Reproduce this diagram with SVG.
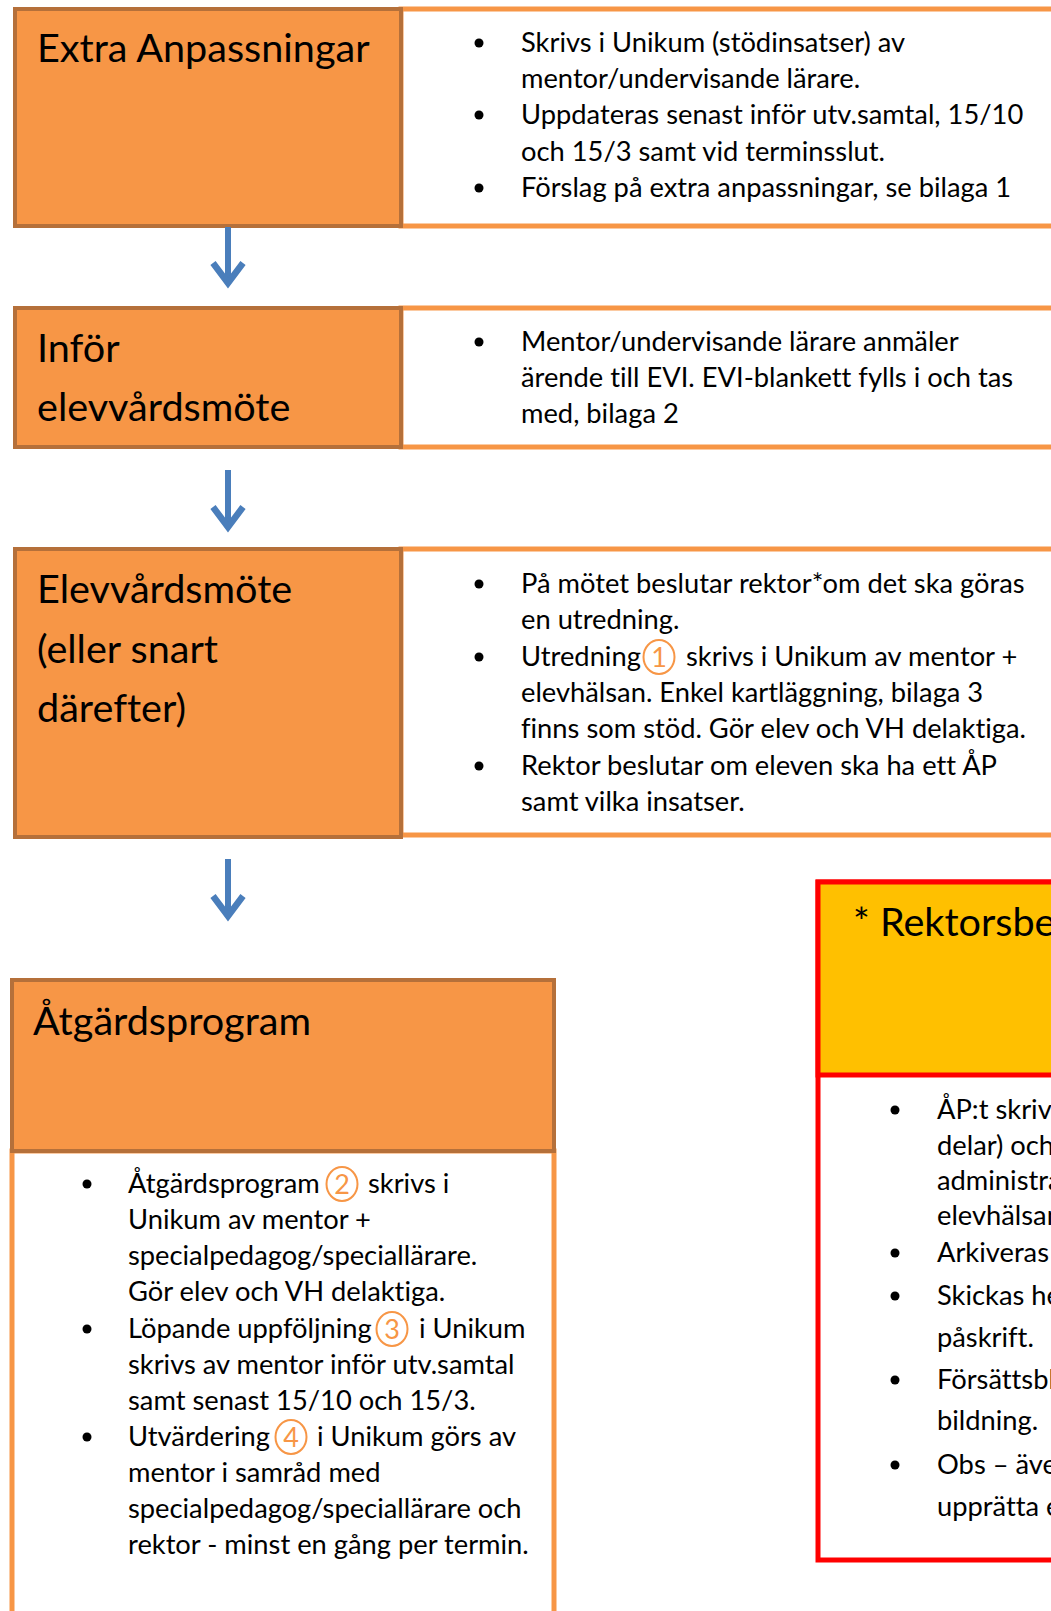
<svg xmlns="http://www.w3.org/2000/svg" width="1051" height="1611" viewBox="0 0 1051 1611">
<defs>
<style>
.ob{fill:#F79646;stroke:#B5703A;stroke-width:4}
.wb{fill:#FFFFFF;stroke:#F79646;stroke-width:5}
.t{font-family:Lato,"Open Sans","Liberation Sans",sans-serif;fill:#000;font-variant-ligatures:none}
.ti{font-size:39.6px}
.bd{font-size:27.3px}
.num{fill:#F79646;font-size:27px;text-anchor:middle}
.circ{fill:none;stroke:#F79646;stroke-width:2}
.conn{stroke:#4A7EBB;stroke-width:6;fill:none}
</style>
<marker id="ah" markerUnits="userSpaceOnUse" markerWidth="50" markerHeight="50" viewBox="-25 -25 50 50" refX="0" refY="0" orient="auto" overflow="visible">
<polyline points="-20,-15 0,0 -20,15" fill="none" stroke="#4A7EBB" stroke-width="6.5" stroke-linejoin="miter"/>
</marker>
<symbol id="bullet" overflow="visible"><circle cx="0" cy="0" r="4.5" fill="#000"/></symbol>
</defs>
<rect width="1051" height="1611" fill="#FFFFFF"/>

<g id="node-extra-anpassningar">
<rect class="wb" x="401" y="9" width="700" height="217"/>
<rect class="ob" x="15" y="9" width="386" height="217"/>
<text class="t ti" x="37" y="62">Extra Anpassningar</text>
<use href="#bullet" x="479" y="43"/>
<text class="t bd" x="521" y="52">Skrivs i Unikum (stödinsatser) av</text>
<text class="t bd" x="521" y="88">mentor/undervisande lärare.</text>
<use href="#bullet" x="479" y="115"/>
<text class="t bd" x="521" y="124">Uppdateras senast inför utv.samtal, 15/10</text>
<text class="t bd" x="521" y="161">och 15/3 samt vid terminsslut.</text>
<use href="#bullet" x="479" y="188"/>
<text class="t bd" x="521" y="197">Förslag på extra anpassningar, se bilaga 1</text>
</g>

<g id="node-infor-elevvardsmote">
<rect class="wb" x="401" y="308" width="700" height="139"/>
<rect class="ob" x="15" y="308" width="386" height="139"/>
<text class="t ti" x="37" y="362">Inför</text>
<text class="t ti" x="37" y="421">elevvårdsmöte</text>
<use href="#bullet" x="479" y="342"/>
<text class="t bd" x="521" y="351">Mentor/undervisande lärare anmäler</text>
<text class="t bd" x="521" y="387">ärende till EVI. EVI-blankett fylls i och tas</text>
<text class="t bd" x="521" y="423">med, bilaga 2</text>
</g>

<g id="node-elevvardsmote">
<rect class="wb" x="401" y="549" width="700" height="286"/>
<rect class="ob" x="15" y="549" width="386" height="288"/>
<text class="t ti" x="37" y="603">Elevvårdsmöte</text>
<text class="t ti" x="37" y="663">(eller snart</text>
<text class="t ti" x="37" y="722">därefter)</text>
<use href="#bullet" x="479" y="584"/>
<text class="t bd" x="521" y="593">På mötet beslutar rektor*om det ska göras</text>
<text class="t bd" x="521" y="629">en utredning.</text>
<use href="#bullet" x="479" y="657"/>
<text class="t bd" x="521" y="666">Utredning</text>
<ellipse class="circ" cx="659" cy="657" rx="15.5" ry="17"/>
<text class="t num" x="659" y="667">1</text>
<text class="t bd" x="686" y="666">skrivs i Unikum av mentor +</text>
<text class="t bd" x="521" y="702">elevhälsan. Enkel kartläggning, bilaga 3</text>
<text class="t bd" x="521" y="738">finns som stöd. Gör elev och VH delaktiga.</text>
<use href="#bullet" x="479" y="766"/>
<text class="t bd" x="521" y="775">Rektor beslutar om eleven ska ha ett ÅP</text>
<text class="t bd" x="521" y="811">samt vilka insatser.</text>
</g>

<g id="node-atgardsprogram">
<rect class="wb" x="12" y="1151" width="542" height="500"/>
<rect class="ob" x="12" y="980" width="542" height="171"/>
<text class="t ti" x="33" y="1035">Åtgärdsprogram</text>
<use href="#bullet" x="87" y="1184"/>
<text class="t bd" x="128" y="1193">Åtgärdsprogram</text>
<ellipse class="circ" cx="342" cy="1184" rx="15.5" ry="17"/>
<text class="t num" x="342" y="1194">2</text>
<text class="t bd" x="368" y="1193">skrivs i</text>
<text class="t bd" x="128" y="1229">Unikum av mentor +</text>
<text class="t bd" x="128" y="1265">specialpedagog/speciallärare.</text>
<text class="t bd" x="128" y="1301">Gör elev och VH delaktiga.</text>
<use href="#bullet" x="87" y="1329"/>
<text class="t bd" x="128" y="1338">Löpande uppföljning</text>
<ellipse class="circ" cx="392" cy="1329" rx="15.5" ry="17"/>
<text class="t num" x="392" y="1339">3</text>
<text class="t bd" x="419" y="1338">i Unikum</text>
<text class="t bd" x="128" y="1374">skrivs av mentor inför utv.samtal</text>
<text class="t bd" x="128" y="1410">samt senast 15/10 och 15/3.</text>
<use href="#bullet" x="87" y="1437"/>
<text class="t bd" x="128" y="1446">Utvärdering</text>
<ellipse class="circ" cx="291" cy="1437" rx="15.5" ry="17"/>
<text class="t num" x="291" y="1447">4</text>
<text class="t bd" x="317" y="1446">i Unikum görs av</text>
<text class="t bd" x="128" y="1482">mentor i samråd med</text>
<text class="t bd" x="128" y="1518">specialpedagog/speciallärare och</text>
<text class="t bd" x="128" y="1554">rektor - minst en gång per termin.</text>
</g>

<g id="node-rektorsbeslut">
<rect x="818" y="882" width="300" height="678" fill="#FFFFFF" stroke="#FF0000" stroke-width="5"/>
<rect x="818" y="882" width="300" height="193" fill="#FFC000" stroke="#FF0000" stroke-width="5"/>
<text class="t ti" x="853" y="936">* Rektorsbe</text>
<use href="#bullet" x="895" y="1110"/>
<text class="t bd" x="937" y="1119">ÅP:t skriv</text>
<text class="t bd" x="937" y="1155">delar) och</text>
<text class="t bd" x="937" y="1190">administra</text>
<text class="t bd" x="937" y="1225">elevhälsan</text>
<use href="#bullet" x="895" y="1253"/>
<text class="t bd" x="937" y="1262">Arkiveras</text>
<use href="#bullet" x="895" y="1296"/>
<text class="t bd" x="937" y="1305">Skickas he</text>
<text class="t bd" x="937" y="1347">påskrift.</text>
<use href="#bullet" x="895" y="1380"/>
<text class="t bd" x="937" y="1389">Försättsbl</text>
<text class="t bd" x="937" y="1430">bildning.</text>
<use href="#bullet" x="895" y="1465"/>
<text class="t bd" x="937" y="1474">Obs – äve</text>
<text class="t bd" x="937" y="1516">upprätta e</text>
</g>

<g id="connectors">
<path class="conn" d="M228,227 V283" marker-end="url(#ah)"/>
<path class="conn" d="M228,470 V527" marker-end="url(#ah)"/>
<path class="conn" d="M228,859 V916" marker-end="url(#ah)"/>
</g>
</svg>
